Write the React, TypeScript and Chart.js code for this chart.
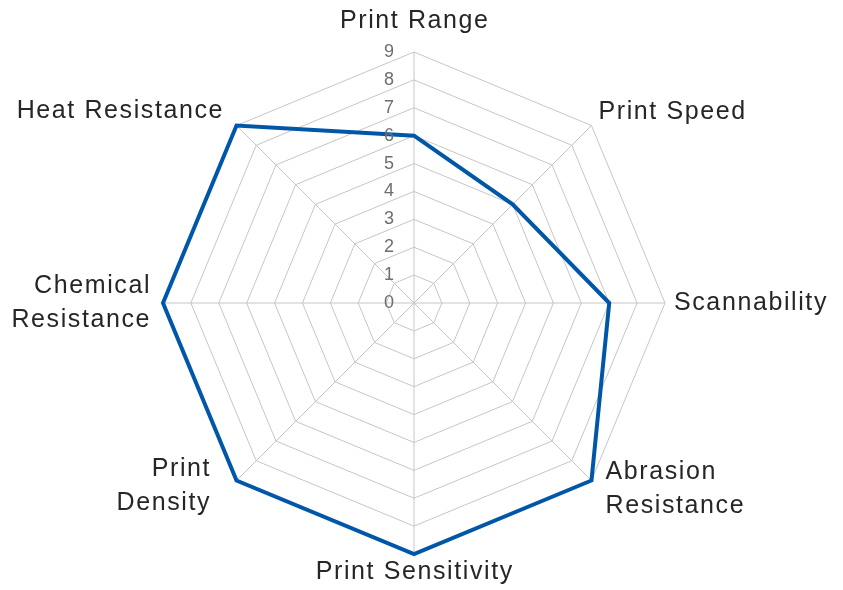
import React, { useEffect, useRef } from "react";
import { Chart, registerables } from "chart.js";

Chart.register(...registerables);

const categories: string[][] = [
  ["Print Range"],
  ["Print Speed"],
  ["Scannability"],
  ["Abrasion", "Resistance"],
  ["Print Sensitivity"],
  ["Print", "Density"],
  ["Chemical", "Resistance"],
  ["Heat Resistance"],
];
const seriesValues = [6, 5, 7, 9, 9, 9, 9, 9];
const tickValues = [0, 1, 2, 3, 4, 5, 6, 7, 8, 9];

// label offsets beyond the outer ring (style)
const labelPadX = [0, 7, 9, 14, 0, 27, 13.5, 14];
const labelPadY = [31, 13, 0, 9, 18, 6, 0, 14];

const labelPlugin = {
  id: "customLabels",
  afterDatasetsDraw(chart: any) {
    const scale = chart.scales.r;
    const ctx = chart.ctx;
    const r = scale.drawingArea;
    ctx.save();
    // tick labels
    ctx.font = "18px 'Liberation Sans'";
    ctx.fillStyle = "#6e6e6e";
    ctx.textAlign = "right";
    ctx.textBaseline = "middle";
    tickValues.forEach((v) => {
      const d = scale.getDistanceFromCenterForValue(v);
      ctx.fillText(String(v), scale.xCenter - 20, scale.yCenter - d);
    });
    // point labels
    const spacing = 1.6;
    ctx.font = "25px 'Liberation Sans'";
    (ctx as any).letterSpacing = spacing + "px";
    ctx.fillStyle = "#262626";
    const lineH = 34;
    categories.forEach((lines, i) => {
      const pOuter = scale.getPointPosition(i, r);
      const dx = pOuter.x - scale.xCenter;
      const dy = pOuter.y - scale.yCenter;
      const ux = Math.abs(dx) < 1 ? 0 : Math.sign(dx);
      const uy = Math.abs(dy) < 1 ? 0 : Math.sign(dy);
      const x = pOuter.x + ux * labelPadX[i];
      const y = pOuter.y + uy * labelPadY[i];
      ctx.textAlign = ux === 0 ? "center" : ux > 0 ? "left" : "right";
      const total = lines.length * lineH;
      const top = y - total / 2 + lineH / 2;
      const xShift =
        ctx.textAlign === "right" ? spacing : ctx.textAlign === "center" ? spacing / 2 : 0;
      lines.forEach((ln, k) => {
        ctx.fillText(ln, x + xShift, top + k * lineH);
      });
    });
    ctx.restore();
  },
};

export default function App() {
  const ref = useRef<HTMLCanvasElement>(null);
  useEffect(() => {
    document.body.style.margin = "0";
    const chart = new Chart(ref.current!, {
      type: "radar",
      data: {
        labels: categories.map((l) => l.join(" ")),
        datasets: [
          {
            data: seriesValues,
            borderColor: "#0057a8",
            borderWidth: 4,
            fill: false,
            pointRadius: 0,
            pointHoverRadius: 0,
          },
        ],
      },
      options: {
        animation: false,
        responsive: false,
        layout: { padding: { top: 52, bottom: 36, left: 0, right: 15 } },
        plugins: { legend: { display: false }, tooltip: { enabled: false } },
        elements: { line: { tension: 0, borderJoinStyle: "miter" } },
        scales: {
          r: {
            min: 0,
            max: 9,
            ticks: { stepSize: 1, display: false },
            grid: { color: "#c6c6c6", lineWidth: 1 },
            angleLines: { color: "#c6c6c6", lineWidth: 1 },
            pointLabels: { display: false },
          },
        },
      },
      plugins: [labelPlugin],
    });
    return () => chart.destroy();
  }, []);
  return <canvas ref={ref} width={843} height={590} style={{ display: "block" }} />;
}
